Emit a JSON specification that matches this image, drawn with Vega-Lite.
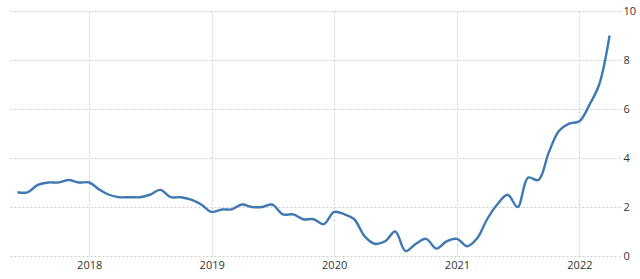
{
  "$schema": "https://vega.github.io/schema/vega-lite/v6.json",
  "autosize": "none",
  "width": 612,
  "height": 245,
  "padding": {"left": 8, "top": 11, "right": 20, "bottom": 23},
  "background": "white",
  "config": {"view": {"stroke": null}},
  "data": {"values": [
    {"date": "2017-06-01", "v": 2.6},
    {"date": "2017-07-01", "v": 2.6},
    {"date": "2017-08-01", "v": 2.9},
    {"date": "2017-09-01", "v": 3.0},
    {"date": "2017-10-01", "v": 3.0},
    {"date": "2017-11-01", "v": 3.1},
    {"date": "2017-12-01", "v": 3.0},
    {"date": "2018-01-01", "v": 3.0},
    {"date": "2018-02-01", "v": 2.7},
    {"date": "2018-03-01", "v": 2.5},
    {"date": "2018-04-01", "v": 2.4},
    {"date": "2018-05-01", "v": 2.4},
    {"date": "2018-06-01", "v": 2.4},
    {"date": "2018-07-01", "v": 2.5},
    {"date": "2018-08-01", "v": 2.7},
    {"date": "2018-09-01", "v": 2.4},
    {"date": "2018-10-01", "v": 2.4},
    {"date": "2018-11-01", "v": 2.3},
    {"date": "2018-12-01", "v": 2.1},
    {"date": "2019-01-01", "v": 1.8},
    {"date": "2019-02-01", "v": 1.9},
    {"date": "2019-03-01", "v": 1.9},
    {"date": "2019-04-01", "v": 2.1},
    {"date": "2019-05-01", "v": 2.0},
    {"date": "2019-06-01", "v": 2.0},
    {"date": "2019-07-01", "v": 2.1},
    {"date": "2019-08-01", "v": 1.7},
    {"date": "2019-09-01", "v": 1.7},
    {"date": "2019-10-01", "v": 1.5},
    {"date": "2019-11-01", "v": 1.5},
    {"date": "2019-12-01", "v": 1.3},
    {"date": "2020-01-01", "v": 1.8},
    {"date": "2020-02-01", "v": 1.7},
    {"date": "2020-03-01", "v": 1.5},
    {"date": "2020-04-01", "v": 0.8},
    {"date": "2020-05-01", "v": 0.5},
    {"date": "2020-06-01", "v": 0.6},
    {"date": "2020-07-01", "v": 1.0},
    {"date": "2020-08-01", "v": 0.2},
    {"date": "2020-09-01", "v": 0.5},
    {"date": "2020-10-01", "v": 0.7},
    {"date": "2020-11-01", "v": 0.3},
    {"date": "2020-12-01", "v": 0.6},
    {"date": "2021-01-01", "v": 0.7},
    {"date": "2021-02-01", "v": 0.4},
    {"date": "2021-03-01", "v": 0.7},
    {"date": "2021-04-01", "v": 1.5},
    {"date": "2021-05-01", "v": 2.1},
    {"date": "2021-06-01", "v": 2.5},
    {"date": "2021-07-01", "v": 2.0},
    {"date": "2021-08-01", "v": 3.2},
    {"date": "2021-09-01", "v": 3.1},
    {"date": "2021-10-01", "v": 4.2},
    {"date": "2021-11-01", "v": 5.1},
    {"date": "2021-12-01", "v": 5.4},
    {"date": "2022-01-01", "v": 5.5},
    {"date": "2022-02-01", "v": 6.2},
    {"date": "2022-03-01", "v": 7.0},
    {"date": "2022-04-01", "v": 9.0}
  ]},
  "mark": {"type": "line", "interpolate": "catmull-rom", "color": "#4079b2", "strokeWidth": 2.4},
  "encoding": {
    "x": {
      "field": "date", "type": "temporal",
      "scale": {"domain": ["2017-05-04", "2022-05-02"]},
      "axis": {
        "title": null, "format": "%Y", "tickCount": {"interval": "year", "step": 1},
        "domain": false, "ticks": false,
        "grid": true, "gridColor": "#cccccc", "gridDash": [2, 2], "gridWidth": 1,
        "labelFont": "Open Sans", "labelFontSize": 11, "labelColor": "#333333", "labelPadding": 3
      }
    },
    "y": {
      "field": "v", "type": "quantitative",
      "scale": {"domain": [0, 10]},
      "axis": {
        "title": null, "orient": "right", "values": [0, 2, 4, 6, 8, 10],
        "domain": false, "ticks": false,
        "grid": true, "gridColor": "#cccccc", "gridDash": [2, 2], "gridWidth": 1,
        "labelFont": "Open Sans", "labelFontSize": 11, "labelColor": "#333333", "labelPadding": 3
      }
    }
  }
}
